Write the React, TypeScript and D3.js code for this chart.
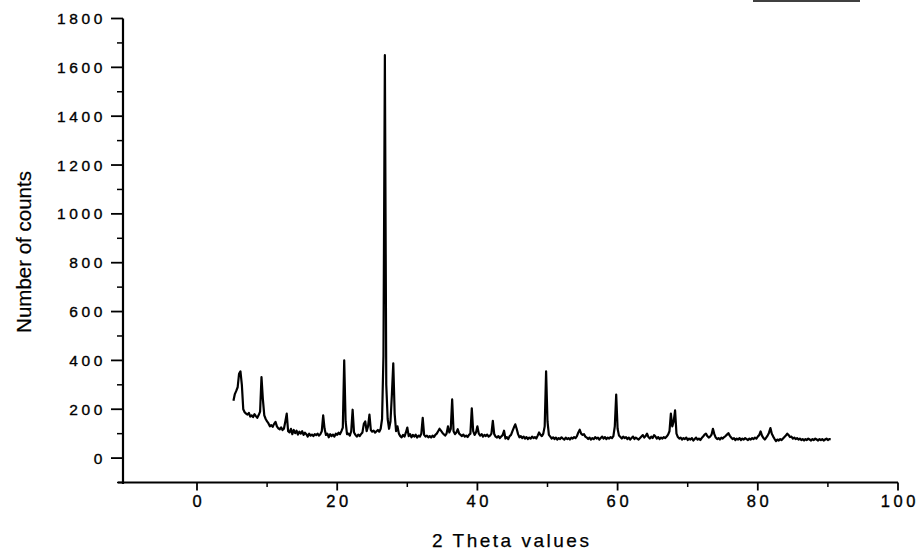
import React from "react";
import * as d3 from "d3";

// 2-theta sampling grid (degrees): START, START+STEP, ...
const START = 5.2;
const STEP = 0.2;

// counts, one row per 2 degrees (10 samples per row)
const counts: number[] = [
  235, 262, 275, 290, 345, 355, 300, 200, 188, 182, // 5.2 - 7.0
  178, 185, 170, 175, 168, 180, 172, 165, 176, 190, // 7.2 - 9.0
  332, 240, 175, 160, 150, 142, 130, 135, 128, 140, // 9.2 - 11.0
  148, 130, 122, 118, 126, 115, 120, 150, 182, 110, // 11.2 - 13.0
  105, 120, 98, 115, 102, 112, 96, 108, 100, 110, // 13.2 - 15.0
  95, 104, 98, 88, 100, 92, 96, 90, 98, 94, // 15.2 - 17.0
  100, 92, 98, 110, 175, 120, 95, 100, 85, 98, // 17.2 - 19.0
  90, 96, 88, 100, 95, 104, 98, 110, 125, 400, // 19.2 - 21.0
  150, 98, 100, 92, 110, 198, 105, 95, 88, 96, // 21.2 - 23.0
  90, 98, 105, 140, 150, 110, 130, 178, 115, 108, // 23.2 - 25.0
  112, 104, 110, 115, 108, 120, 160, 420, 1650, 300, // 25.2 - 27.0
  160, 120, 150, 260, 388, 180, 110, 130, 100, 90, // 27.2 - 29.0
  85, 95, 88, 105, 125, 90, 98, 85, 95, 88, // 29.2 - 31.0
  96, 84, 92, 88, 100, 165, 95, 88, 92, 85, // 31.2 - 33.0
  90, 84, 92, 86, 95, 100, 110, 120, 112, 104, // 33.2 - 35.0
  98, 92, 100, 130, 105, 120, 240, 110, 98, 105, // 35.2 - 37.0
  118, 100, 95, 90, 96, 88, 92, 86, 95, 100, // 37.2 - 39.0
  204, 110, 95, 105, 130, 100, 92, 98, 88, 95, // 39.2 - 41.0
  90, 96, 88, 92, 100, 152, 98, 88, 84, 90, // 41.2 - 43.0
  82, 88, 94, 112, 80, 86, 78, 90, 95, 110, // 43.2 - 45.0
  125, 138, 120, 98, 85, 90, 82, 88, 80, 86, // 45.2 - 47.0
  78, 84, 80, 88, 82, 86, 80, 92, 105, 95, // 47.2 - 49.0
  90, 100, 130, 355, 150, 95, 88, 80, 85, 78, // 49.2 - 51.0
  84, 76, 82, 78, 85, 80, 76, 84, 78, 82, // 51.2 - 53.0
  76, 84, 80, 86, 82, 90, 105, 116, 100, 95, // 53.2 - 55.0
  98, 88, 84, 78, 84, 76, 82, 78, 86, 80, // 55.2 - 57.0
  84, 76, 82, 88, 80, 86, 78, 84, 80, 86, // 57.2 - 59.0
  82, 90, 130, 260, 120, 92, 86, 80, 88, 82, // 59.2 - 61.0
  86, 78, 84, 76, 82, 88, 78, 84, 80, 76, // 61.2 - 63.0
  82, 88, 94, 84, 90, 100, 86, 80, 88, 82, // 63.2 - 65.0
  94, 88, 80, 86, 78, 84, 80, 86, 82, 88, // 65.2 - 67.0
  96, 110, 182, 130, 150, 195, 100, 86, 80, 84, // 67.2 - 69.0
  76, 82, 78, 84, 74, 80, 76, 82, 72, 78, // 69.2 - 71.0
  84, 76, 80, 74, 82, 88, 96, 100, 90, 84, // 71.2 - 73.0
  88, 96, 120, 98, 84, 78, 82, 76, 84, 80, // 73.2 - 75.0
  86, 90, 96, 102, 92, 84, 78, 82, 74, 80, // 75.2 - 77.0
  76, 82, 74, 80, 76, 82, 78, 74, 80, 76, // 77.2 - 79.0
  82, 78, 84, 80, 88, 94, 109, 92, 82, 76, // 79.2 - 81.0
  84, 92, 104, 123, 100, 88, 78, 70, 76, 72, // 81.2 - 83.0
  78, 74, 80, 86, 92, 100, 94, 86, 88, 80, // 83.2 - 85.0
  84, 78, 82, 76, 80, 74, 78, 72, 78, 74, // 85.2 - 87.0
  80, 76, 72, 78, 74, 80, 76, 72, 78, 74, // 87.2 - 89.0
  78, 72, 76, 80, 74, 78, 76, // 89.2 - 90.4
];

const xMajor = [0, 20, 40, 60, 80, 100];
const xMinor = [10, 30, 50, 70, 90];
const yMajor = [0, 200, 400, 600, 800, 1000, 1200, 1400, 1600, 1800];
const yMinor = [-100, 100, 300, 500, 700, 900, 1100, 1300, 1500, 1700];

const xTitle = "2 Theta values";
const yTitle = "Number of counts";

export default function App() {
  const W = 921;
  const H = 555;
  const x = d3.scaleLinear().domain([-10.556, 100]).range([123, 898]);
  const y = d3.scaleLinear().domain([-100, 1800]).range([482.5, 18.5]);

  const pts: [number, number][] = counts.map((c, i) => [START + i * STEP, c]);
  const line = d3
    .line<[number, number]>()
    .x((d) => x(d[0]))
    .y((d) => y(d[1]));

  const font = "'Liberation Sans', Arial, Helvetica, sans-serif";
  const axisY = y(-100);
  const axisX = x(-10.556);
  const textStroke = { stroke: "#000", strokeWidth: 0.35 };

  return (
    <svg
      width={W}
      height={H}
      style={{ position: "absolute", left: 0, top: 0, background: "#fff" }}
    >
      <rect x={0} y={0} width={W} height={H} fill="#fff" />
      {/* cropped legend box edge at top */}
      <line x1={753} x2={860} y1={1} y2={1} stroke="#000" strokeWidth={1.5} />

      {/* data */}
      <path
        d={line(pts) || ""}
        fill="none"
        stroke="#000"
        strokeWidth={2.2}
        strokeLinejoin="round"
      />

      {/* y axis */}
      <line x1={axisX} x2={axisX} y1={y(1800)} y2={axisY + 1.5} stroke="#000" strokeWidth={2.2} />
      {yMajor.map((v) => (
        <line key={"ym" + v} x1={axisX - 12} x2={axisX} y1={y(v)} y2={y(v)} stroke="#000" strokeWidth={1.8} />
      ))}
      {yMinor.map((v) => (
        <line key={"yn" + v} x1={axisX - 6} x2={axisX} y1={y(v)} y2={y(v)} stroke="#000" strokeWidth={1.5} />
      ))}
      {yMajor.map((v) => (
        <text
          key={"yl" + v}
          x={106}
          y={y(v) + 5.5}
          textAnchor="end"
          fontFamily={font}
          fontSize={15.5}
          letterSpacing={3.6}
          fill="#000"
          {...textStroke}
        >
          {v}
        </text>
      ))}
      <text
        transform={`translate(31, 252) rotate(-90)`}
        textAnchor="middle"
        fontFamily={font}
        fontSize={20.5}
        fill="#000"
        {...textStroke}
        strokeWidth={0.2}
      >
        {yTitle}
      </text>

      {/* x axis */}
      <line x1={axisX - 5} x2={x(100)} y1={axisY} y2={axisY} stroke="#000" strokeWidth={2.2} />
      {xMajor.map((v) => (
        <line key={"xm" + v} x1={x(v)} x2={x(v)} y1={axisY} y2={axisY + 8} stroke="#000" strokeWidth={1.8} />
      ))}
      {xMinor.map((v) => (
        <line key={"xn" + v} x1={x(v)} x2={x(v)} y1={axisY} y2={axisY + 4.5} stroke="#000" strokeWidth={1.5} />
      ))}
      {xMajor.map((v) => (
        <text
          key={"xl" + v}
          x={x(v) + 1.8}
          y={507}
          textAnchor="middle"
          fontFamily={font}
          fontSize={16.5}
          letterSpacing={3.6}
          fill="#000"
          {...textStroke}
        >
          {v}
        </text>
      ))}
      <text
        x={(axisX + x(100)) / 2 + 1.25}
        y={547}
        textAnchor="middle"
        fontFamily={font}
        fontSize={19}
        letterSpacing={2.5}
        fill="#000"
        {...textStroke}
        strokeWidth={0.25}
      >
        {xTitle}
      </text>
    </svg>
  );
}
